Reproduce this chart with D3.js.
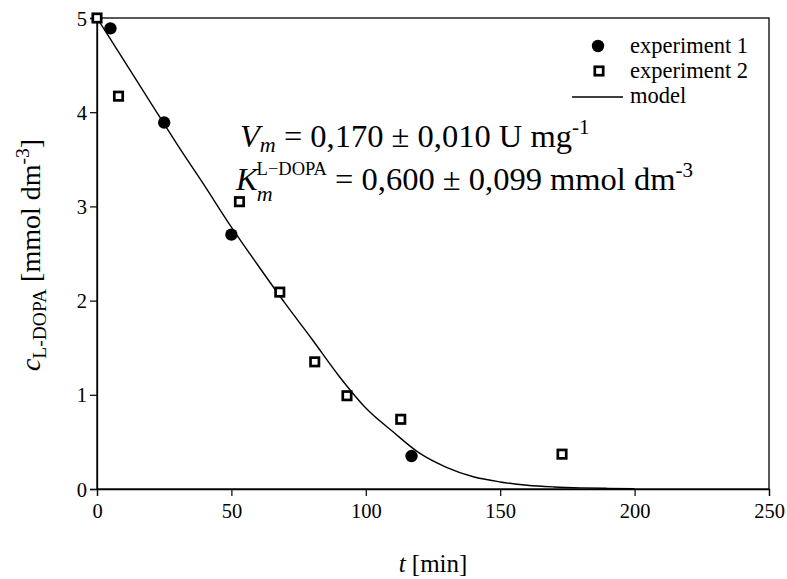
<!DOCTYPE html>
<html><head><meta charset="utf-8">
<script src="https://cdn.jsdelivr.net/npm/d3@7"></script>
<style>body{margin:0;background:#fff}svg{display:block}
svg text{font-family:"Liberation Serif","Tinos","Times New Roman",Times,"DejaVu Serif","Noto Serif",serif !important;fill:#000}</style>
</head><body><svg id="c" width="787" height="579"></svg>
<script>
const exp1T = [5, 25, 50, 117];
const exp1C = [4.89, 3.89, 2.70, 0.35];
const exp2T = [0, 8, 53, 68, 81, 93, 113, 173];
const exp2C = [5.00, 4.17, 3.05, 2.09, 1.35, 0.99, 0.74, 0.37];
const modelT = [0, 10, 20, 30, 40, 50, 60, 70, 80, 90, 100, 110, 120, 130, 140, 150, 160, 170, 180, 190, 200];
const modelC = [5.00, 4.55, 4.10, 3.65, 3.22, 2.78, 2.37, 1.97, 1.59, 1.20, 0.86, 0.61, 0.38, 0.23, 0.13, 0.075, 0.040, 0.022, 0.012, 0.007, 0.004];
const xTicks = [0, 50, 100, 150, 200, 250];
const yTicks = [0, 1, 2, 3, 4, 5];

const svg = d3.select("#c");
const L = 97, R = 769, T = 18, B = 489;
const x = d3.scaleLinear().domain([0, 250]).range([L, R]);
const y = d3.scaleLinear().domain([0, 5]).range([B, T]);

svg.append("rect").attr("x", L).attr("y", T).attr("width", R - L).attr("height", B - T)
  .attr("fill", "none").attr("stroke", "#000").attr("stroke-width", 1.3);

const xa = svg.append("g").attr("transform", `translate(0,${B})`)
  .call(d3.axisBottom(x).tickValues(xTicks).tickSize(7).tickPadding(7).tickFormat(d3.format("d")));
const ya = svg.append("g").attr("transform", `translate(${L},0)`)
  .call(d3.axisLeft(y).tickValues(yTicks).tickSize(7).tickPadding(3).tickFormat(d3.format("d")));
[xa, ya].forEach(a => {
  a.attr("font-family", null);
  a.select(".domain").attr("stroke", "#000").attr("stroke-width", 1.3);
  a.selectAll(".tick line").attr("stroke", "#000").attr("stroke-width", 1.2);
  a.selectAll(".tick text").style("font-size", "20.5px").attr("fill", "#000");
});
ya.selectAll(".tick text").attr("dy", "0.35em");

const line = d3.line().x(d => x(d[0])).y(d => y(d[1])).curve(d3.curveMonotoneX);
svg.append("path").datum(modelT.map((t, i) => [t, modelC[i]]))
  .attr("d", line).attr("fill", "none").attr("stroke", "#000").attr("stroke-width", 1.4);

svg.selectAll("circle.e1").data(exp1T.map((t, i) => [t, exp1C[i]])).enter()
  .append("circle").attr("cx", d => x(d[0])).attr("cy", d => y(d[1])).attr("r", 6.2).attr("fill", "#000");
const s = 8.4;
svg.selectAll("rect.e2").data(exp2T.map((t, i) => [t, exp2C[i]])).enter()
  .append("rect").attr("x", d => x(d[0]) - s / 2).attr("y", d => y(d[1]) - s / 2)
  .attr("width", s).attr("height", s).attr("fill", "#fff").attr("stroke", "#000").attr("stroke-width", 2.7);

const lg = svg.append("g");
lg.append("circle").attr("cx", 598).attr("cy", 46).attr("r", 6.2).attr("fill", "#000");
lg.append("rect").attr("x", 599 - s / 2).attr("y", 71 - s / 2).attr("width", s).attr("height", s)
  .attr("fill", "#fff").attr("stroke", "#000").attr("stroke-width", 2.7);
lg.append("line").attr("x1", 572).attr("x2", 623).attr("y1", 97).attr("y2", 97).attr("stroke", "#000").attr("stroke-width", 1.3);
[["experiment 1", 53], ["experiment 2", 78], ["model", 103]].forEach(([t, yy]) => {
  lg.append("text").attr("x", 630).attr("y", yy).style("font-size", "22.5px").text(t);
});

const a1 = svg.append("text").attr("x", 240).attr("y", 147).style("font-size", "32.5px");
a1.append("tspan").style("font-style", "italic").text("V");
a1.append("tspan").style("font-style", "italic").style("font-size", "22px").attr("dy", 5).text("m");
a1.append("tspan").attr("dy", -5).text(" = 0,170 ± 0,010 U mg");
a1.append("tspan").style("font-size", "21px").attr("dy", -13).text("-1");

const a2 = svg.append("text").attr("x", 236).attr("y", 190).style("font-size", "32.5px");
a2.append("tspan").style("font-style", "italic").text("K");
a2.append("tspan").style("font-style", "italic").style("font-size", "22px").attr("dy", 11).attr("dx", -1).text("m");
a2.append("tspan").style("font-size", "18.5px").attr("dy", -26).attr("dx", -16).text("L−DOPA");
a2.append("tspan").attr("dy", 15).text(" = 0,600 ± 0,099 mmol dm");
a2.append("tspan").style("font-size", "21px").attr("dy", -13).text("-3");

const xt = svg.append("text").attr("x", 433).attr("y", 572).attr("text-anchor", "middle").style("font-size", "25px");
xt.append("tspan").style("font-style", "italic").text("t");
xt.append("tspan").text(" [min]");

const yt = svg.append("text").attr("transform", "translate(40,255) rotate(-90)").attr("text-anchor", "middle").style("font-size", "28px");
yt.append("tspan").style("font-style", "italic").text("c");
yt.append("tspan").style("font-size", "19.5px").attr("dy", 6).text("L-DOPA");
yt.append("tspan").attr("dy", -6).text(" [mmol dm");
yt.append("tspan").style("font-size", "19.5px").attr("dy", -11).text("-3");
yt.append("tspan").attr("dy", 11).text("]");
</script></body></html>
